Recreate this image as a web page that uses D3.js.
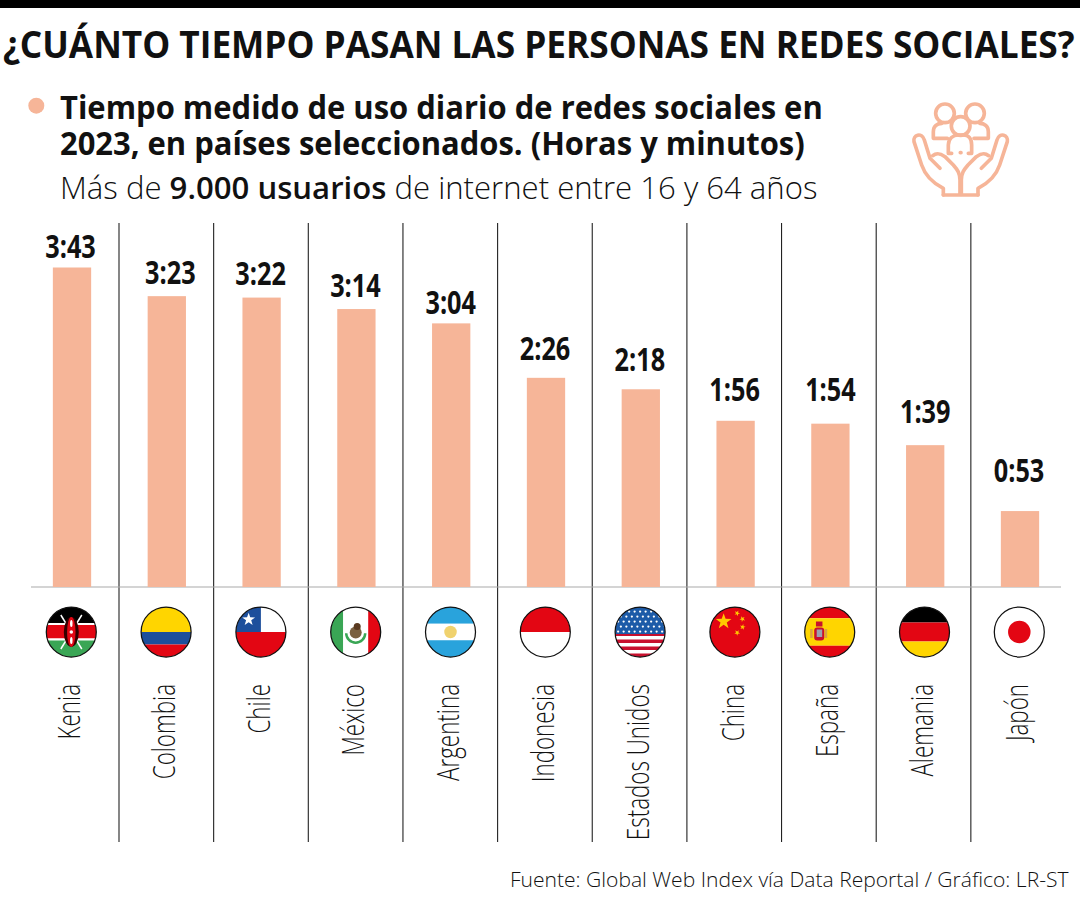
<!DOCTYPE html>
<html>
<head>
<meta charset="utf-8">
<script src="https://cdnjs.cloudflare.com/ajax/libs/d3/7.8.5/d3.min.js"></script>
<style>
  html, body { margin: 0; padding: 0; background: #fff; }
  svg { display: block; }
  text { font-family: "Open Sans", "Noto Sans", sans-serif; fill: #111; }
</style>
</head>
<body>
<svg id="chart" width="1080" height="900"></svg>
<script>
// DATA
const countries = ["Kenia", "Colombia", "Chile", "México", "Argentina", "Indonesia", "Estados Unidos", "China", "España", "Alemania", "Japón"];
const minutes = [223, 203, 202, 194, 184, 146, 138, 116, 114, 99, 53];
const timeLabels = ["3:43", "3:23", "3:22", "3:14", "3:04", "2:26", "2:18", "1:56", "1:54", "1:39", "0:53"];
const flagCodes = ["ke", "co", "cl", "mx", "ar", "id", "us", "cn", "es", "de", "jp"];

// LAYOUT: the time labels do not sit at a constant distance from their bars
const labelGap = [9.7, 12, 13, 12, 9, 18, 18, 20, 23, 22, 29];
const labelShift = [-1.5, 3.5, -1, -1, -0.5, -1, -1, -1, 0, 0, -1];

// SETUP
const peach = "#f6b598";
const svg = d3.select("#chart");
const baseY = 587, flagY = 632, flagR = 25;

const x = d3.scaleBand().domain(countries).range([24.6, 1067.4]).paddingInner(0.596).paddingOuter(0.298);
const y = d3.scaleLinear().domain([0, 223]).range([baseY, 267.5]);
const sepX = d3.scaleLinear().domain([0, 9]).range([119, 970.85]);
const barMid = d => x(d) + x.bandwidth() / 2;

// squeeze a text horizontally until it takes up the given width
function fit(sel, w) {
  const box = sel.node().getComputedTextLength();
  const px = +sel.attr("x"), py = +sel.attr("y");
  sel.attr("transform", `translate(${px},${py}) scale(${w / box},1) translate(${-px},${-py})`);
}

// HEADER
svg.append("rect").attr("width", 1080).attr("height", 8).attr("fill", "#000");

svg.append("text").attr("x", 3).attr("y", 58.5)
  .attr("font-size", 37).attr("font-weight", 700)
  .text("¿CUÁNTO TIEMPO PASAN LAS PERSONAS EN REDES SOCIALES?")
  .call(fit, 1072);

svg.append("circle").attr("cx", 36.3).attr("cy", 105.7).attr("r", 8).attr("fill", peach);

svg.append("text").attr("x", 60).attr("y", 119)
  .attr("font-size", 32.5).attr("font-weight", 700)
  .text("Tiempo medido de uso diario de redes sociales en")
  .call(fit, 763);
svg.append("text").attr("x", 60).attr("y", 155)
  .attr("font-size", 32.5).attr("font-weight", 700)
  .text("2023, en países seleccionados. (Horas y minutos)")
  .call(fit, 745);

const sub = svg.append("text").attr("x", 60).attr("y", 199)
  .attr("font-size", 31).attr("font-weight", 300);
sub.append("tspan").text("Más de ");
sub.append("tspan").attr("font-weight", 600).text("9.000 usuarios");
sub.append("tspan").text(" de internet entre 16 y 64 años");
sub.call(fit, 758);

// ICON (people held by two hands), drawn at 3x and scaled down
const icon = svg.append("g").attr("transform", "translate(890,90) scale(0.3333)")
  .attr("fill", "none").attr("stroke", peach)
  .attr("stroke-width", 11).attr("stroke-linecap", "round").attr("stroke-linejoin", "round");
[[165, 70], [255, 70], [212, 108]].forEach(h =>
  icon.append("circle").attr("cx", h[0]).attr("cy", h[1]).attr("r", 28));
icon.selectAll("path.p").data([
  "M172,145 H130 V125 C130,108 142,100 156,100",
  "M252,145 H295 V125 C295,108 283,100 269,100",
  "M185,190 H175 V165 C175,145 190,135 205,135 H220 C235,135 245,145 245,165 V190 H235",
  "M211,188 H213"
]).enter().append("path").attr("class", "p").attr("d", d => d);
["", "translate(424,0) scale(-1,1)"].forEach(t => {
  const hand = icon.append("g").attr("transform", t);
  hand.append("path").attr("d", "M160,315 V295 C130,280 105,255 95,225 L72,155 C68,135 95,125 103,150 L120,205 C130,215 140,225 150,235");
  hand.append("path").attr("d", "M128,197 C140,188 150,190 165,200 L190,225 C203,240 210,250 210,270 V315 H160");
});

// GRID: separators between the countries, then the baseline
svg.selectAll(".sep").data(d3.range(10)).enter().append("line")
  .attr("class", "sep")
  .attr("x1", d => sepX(d)).attr("x2", d => sepX(d))
  .attr("y1", 223).attr("y2", 842)
  .attr("stroke", "#222").attr("stroke-width", 1.1);

svg.append("line").attr("x1", 31).attr("x2", 1061).attr("y1", baseY).attr("y2", baseY)
  .attr("stroke", "#aaa").attr("stroke-width", 1.2);

// BARS
svg.selectAll(".bar").data(countries).enter().append("rect")
  .attr("class", "bar")
  .attr("x", d => x(d))
  .attr("y", (d, i) => y(minutes[i]))
  .attr("width", x.bandwidth())
  .attr("height", (d, i) => baseY - y(minutes[i]))
  .attr("fill", peach);

// time labels, narrowed because no condensed face is installed
svg.selectAll(".value").data(countries).enter().append("text")
  .attr("class", "value")
  .attr("transform", (d, i) => `translate(${barMid(d) + labelShift[i]},${y(minutes[i]) - labelGap[i]}) scale(0.79,1)`)
  .attr("text-anchor", "middle")
  .attr("font-size", 32).attr("font-weight", 700)
  .text((d, i) => timeLabels[i]);

// COUNTRY NAMES
svg.selectAll(".name").data(countries).enter().append("text")
  .attr("class", "name")
  .attr("transform", d => `translate(${barMid(d) + 8},684) rotate(-90) scale(0.7,1)`)
  .attr("text-anchor", "end")
  .attr("font-size", 32).attr("font-weight", 300)
  .text(d => d);

// FLAGS
// everything inside a flag is in units of its radius, centred on 0,0
function stripes(g, list) {
  // list: [from, to, colour], measured from the top of the flag (-1) to the bottom (1)
  list.forEach(s => g.append("rect").attr("x", -1).attr("width", 2)
    .attr("y", s[0]).attr("height", s[1] - s[0]).attr("fill", s[2]));
}
function vstripes(g, list) {
  list.forEach(s => g.append("rect").attr("y", -1).attr("height", 2)
    .attr("x", s[0]).attr("width", s[1] - s[0]).attr("fill", s[2]));
}
function star(g, cx, cy, r, color, rot) {
  const pts = d3.range(10).map(i => {
    const a = (rot || 0) + i * Math.PI / 5 - Math.PI / 2, q = i % 2 ? r * 0.4 : r;
    return [cx + q * Math.cos(a), cy + q * Math.sin(a)];
  });
  g.append("polygon").attr("points", pts.join(" ")).attr("fill", color);
}

const flags = {
  ke(g) {
    stripes(g, [[-1, -0.36, "#000"], [-0.36, -0.28, "#fff"], [-0.28, 0.26, "#e30613"], [0.26, 0.34, "#fff"], [0.34, 1, "#3aa655"]]);
    [-1, 1].forEach(s => g.append("line").attr("x1", s * 0.42).attr("y1", -0.68).attr("x2", -s * 0.42).attr("y2", 0.68)
      .attr("stroke", "#fff").attr("stroke-width", 0.06));
    g.append("ellipse").attr("rx", 0.3).attr("ry", 0.6).attr("fill", "#300");
    g.append("ellipse").attr("rx", 0.17).attr("ry", 0.6).attr("fill", "#e30613");
    g.append("circle").attr("r", 0.07).attr("fill", "#fff");
    [-0.34, 0.34].forEach(c => g.append("ellipse").attr("cy", c).attr("rx", 0.05).attr("ry", 0.14).attr("fill", "#fff"));
  },
  co(g) { stripes(g, [[-1, 0, "#ffd500"], [0, 0.5, "#1d4f9c"], [0.5, 1, "#e30613"]]); },
  cl(g) {
    stripes(g, [[-1, 0, "#fff"], [0, 1, "#e30613"]]);
    g.append("rect").attr("x", -1).attr("y", -1).attr("width", 1).attr("height", 1).attr("fill", "#1d4f9c");
    star(g, -0.49, -0.5, 0.27, "#fff");
  },
  mx(g) {
    vstripes(g, [[-1, -0.5, "#3aa655"], [-0.5, 0.5, "#fff"], [0.5, 1, "#e30613"]]);
    g.append("path").attr("d", "M-0.38,0.05 A0.38,0.38 0 0 0 0.38,0.05").attr("fill", "none").attr("stroke", "#3aa655").attr("stroke-width", 0.1);
    g.append("circle").attr("cy", 0.02).attr("r", 0.24).attr("fill", "#7a6040");
    g.append("circle").attr("cx", 0.06).attr("cy", -0.22).attr("r", 0.14).attr("fill", "#5a3a20");
  },
  ar(g) {
    stripes(g, [[-1, -0.33, "#29a3dc"], [-0.33, 0.33, "#fff"], [0.33, 1, "#29a3dc"]]);
    g.append("circle").attr("r", 0.25).attr("fill", "#f0d26e");
  },
  id(g) { stripes(g, [[-1, 0, "#e30613"], [0, 1, "#fff"]]); },
  us(g) {
    stripes(g, [[-1, 1, "#fff"]]);
    d3.range(7).forEach(i => stripes(g, [[0.02 + i * 0.28, 0.02 + i * 0.28 + 0.14, "#c8102e"]]));
    stripes(g, [[-1, 0.08, "#1d5ba8"]]);
    d3.range(5).forEach(r => d3.range(-4, 5).forEach(c => {
      g.append("circle").attr("cx", c * 0.22 + (r % 2 ? 0.11 : 0)).attr("cy", -0.82 + r * 0.2).attr("r", 0.045).attr("fill", "#fff");
    }));
  },
  cn(g) {
    stripes(g, [[-1, 1, "#e30613"]]);
    star(g, -0.45, -0.42, 0.33, "#ffc800");
    star(g, 0.09, -0.75, 0.12, "#ffc800", 0.4);
    star(g, 0.3, -0.52, 0.12, "#ffc800", 0.8);
    star(g, 0.31, -0.2, 0.12, "#ffc800", 0.2);
    star(g, 0.09, 0.03, 0.12, "#ffc800", 0.6);
  },
  es(g) {
    stripes(g, [[-1, -0.55, "#e30613"], [-0.55, 0.55, "#ffd500"], [0.55, 1, "#e30613"]]);
    g.append("rect").attr("x", -0.78).attr("y", -0.12).attr("width", 0.1).attr("height", 0.36).attr("fill", "#d9a441");
    g.append("rect").attr("x", -0.2).attr("y", -0.12).attr("width", 0.1).attr("height", 0.36).attr("fill", "#d9a441");
    g.append("rect").attr("x", -0.62).attr("y", -0.18).attr("width", 0.4).attr("height", 0.52).attr("rx", 0.12).attr("fill", "#c8102e");
    g.append("rect").attr("x", -0.52).attr("y", -0.1).attr("width", 0.22).attr("height", 0.3).attr("fill", "#9aa0b0");
    g.append("rect").attr("x", -0.55).attr("y", -0.42).attr("width", 0.26).attr("height", 0.2).attr("fill", "#c8102e");
  },
  de(g) { stripes(g, [[-1, -0.38, "#000"], [-0.38, 0.38, "#e30613"], [0.38, 1, "#ffd500"]]); },
  jp(g) {
    stripes(g, [[-1, 1, "#fff"]]);
    g.append("circle").attr("r", 0.45).attr("fill", "#e30613");
  }
};

const defs = svg.append("defs");
defs.append("clipPath").attr("id", "flagClip").append("circle").attr("r", 1);

countries.forEach((c, i) => {
  const g = svg.append("g").attr("transform", `translate(${barMid(c) - 0.7},${flagY}) scale(${flagR})`);
  const inner = g.append("g").attr("clip-path", "url(#flagClip)");
  flags[flagCodes[i]](inner);
  g.append("circle").attr("r", 1).attr("fill", "none").attr("stroke", "#111").attr("stroke-width", 0.05);
});

// SOURCE
svg.append("text").attr("x", 510).attr("y", 887)
  .attr("font-size", 21).attr("font-weight", 300)
  .text("Fuente: Global Web Index vía Data Reportal / Gráfico: LR-ST")
  .call(fit, 559);
</script>
</body>
</html>
